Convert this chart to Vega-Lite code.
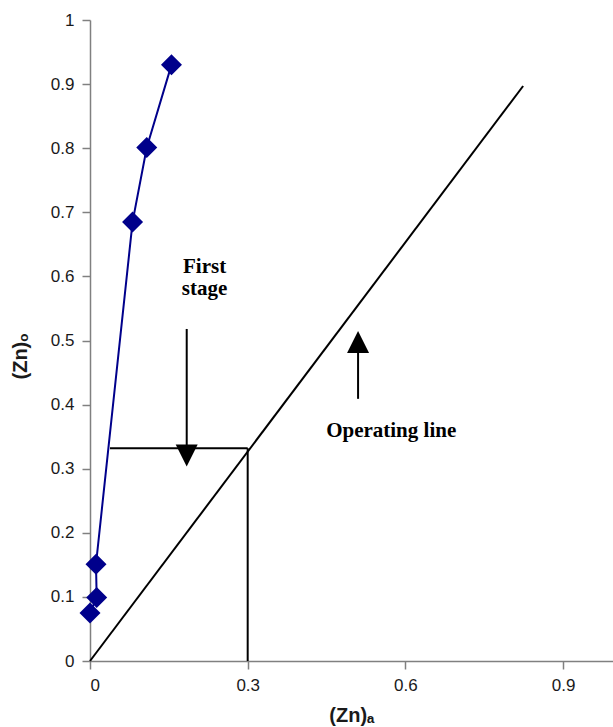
{
  "$schema": "https://vega.github.io/schema/vega-lite/v6.json",
  "autosize": {"type": "none"},
  "padding": {"left": 90, "top": 20, "right": 0, "bottom": 66},
  "width": 523,
  "height": 641,
  "background": "white",
  "config": {
    "view": {"stroke": null},
    "axis": {
      "grid": false,
      "domainColor": "#808080",
      "domainWidth": 1.5,
      "tickColor": "#808080",
      "tickWidth": 1.5,
      "tickSize": 8,
      "labelFont": "Liberation Sans",
      "labelFontSize": 17,
      "labelColor": "#1a1a1a",
      "labelPadding": 8,
      "titleFont": "Liberation Sans",
      "titleFontSize": 20,
      "titleFontWeight": "bold",
      "titleColor": "#1a1a1a"
    }
  },
  "datasets": {
    "curve": [
      {"x": 0.0, "y": 0.075},
      {"x": 0.0127, "y": 0.099},
      {"x": 0.0114, "y": 0.151},
      {"x": 0.081, "y": 0.685},
      {"x": 0.108, "y": 0.801},
      {"x": 0.155, "y": 0.93}
    ],
    "oper": [
      {"x": 0.0, "y": 0.0},
      {"x": 0.824, "y": 0.897}
    ],
    "segs": [
      {"x": 0.038, "x2": 0.3, "y": 0.332, "y2": 0.332},
      {"x": 0.3, "x2": 0.3, "y": 0.0, "y2": 0.332},
      {"x": 0.184, "x2": 0.184, "y": 0.518, "y2": 0.33},
      {"x": 0.51, "x2": 0.51, "y": 0.409, "y2": 0.49}
    ],
    "downHead": [{"x": 0.184, "y": 0.3206}],
    "upHead": [{"x": 0.51, "y": 0.4977}],
    "labels": [
      {"x": 0.218, "y": 0.605, "text": "First"},
      {"x": 0.218, "y": 0.571, "text": "stage"},
      {"x": 0.573, "y": 0.349, "text": "Operating line"}
    ]
  },
  "encoding": {
    "x": {
      "field": "x",
      "type": "quantitative",
      "scale": {"domain": [0, 0.995], "nice": false, "zero": true},
      "axis": {"values": [0, 0.3, 0.6, 0.9], "format": "~g", "title": "(Zn)ₐ", "titlePadding": 12}
    },
    "y": {
      "field": "y",
      "type": "quantitative",
      "scale": {"domain": [0, 1], "nice": false, "zero": true},
      "axis": {
        "values": [0, 0.1, 0.2, 0.3, 0.4, 0.5, 0.6, 0.7, 0.8, 0.9, 1],
        "format": "~g",
        "title": "(Zn)ₒ",
        "titleX": -70,
        "titleY": 336,
        "titleBaseline": "middle",
        "titleAngle": -90
      }
    }
  },
  "layer": [
    {
      "data": {"name": "oper"},
      "mark": {"type": "line", "color": "#000000", "strokeWidth": 2},
      "encoding": {}
    },
    {
      "data": {"name": "segs"},
      "mark": {"type": "rule", "color": "#000000", "strokeWidth": 2},
      "encoding": {
        "x2": {"field": "x2"},
        "y2": {"field": "y2"}
      }
    },
    {
      "data": {"name": "downHead"},
      "mark": {"type": "point", "shape": "M-1,-1L1,-1L0,1Z", "size": 484, "filled": true, "color": "#000000", "opacity": 1},
      "encoding": {}
    },
    {
      "data": {"name": "upHead"},
      "mark": {"type": "point", "shape": "M-1,1L1,1L0,-1Z", "size": 484, "filled": true, "color": "#000000", "opacity": 1},
      "encoding": {}
    },
    {
      "data": {"name": "curve"},
      "mark": {
        "type": "line",
        "color": "#00008B",
        "strokeWidth": 2,
        "interpolate": "linear",
        "point": {"shape": "diamond", "size": 441, "filled": true, "color": "#00008B", "opacity": 1}
      },
      "encoding": {
        "order": {"field": "y", "type": "quantitative"}
      }
    },
    {
      "data": {"name": "labels"},
      "mark": {"type": "text", "font": "Liberation Serif", "fontWeight": "bold", "fontSize": 21, "align": "center", "baseline": "alphabetic", "color": "#000000"},
      "encoding": {
        "text": {"field": "text", "type": "nominal"}
      }
    }
  ]
}
